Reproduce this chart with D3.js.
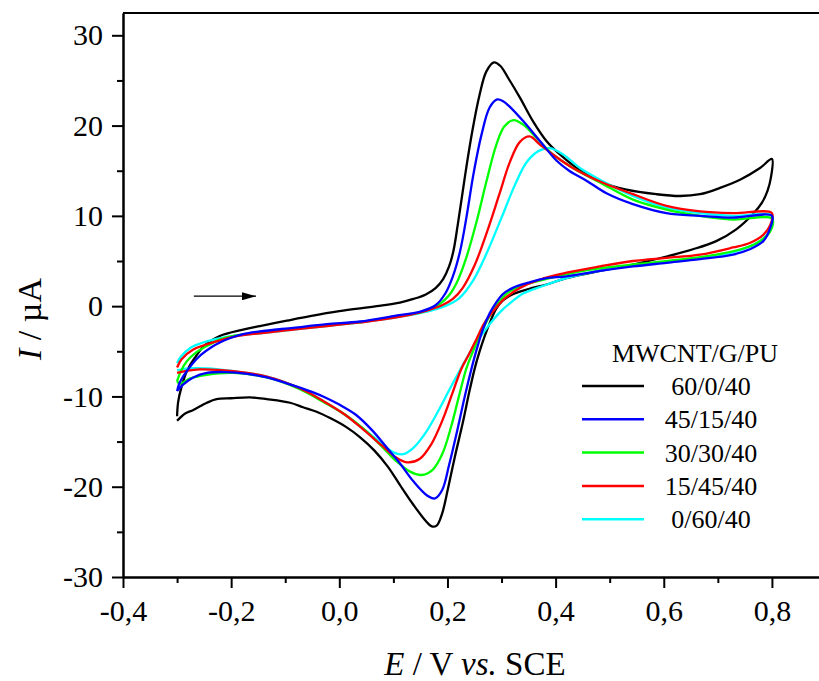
<!DOCTYPE html>
<html>
<head>
<meta charset="utf-8">
<script src="https://cdn.jsdelivr.net/npm/d3@7"></script>
<style>
  body { margin: 0; background: #fff; }
  svg { display: block; }
  .axis path, .axis line { stroke: #000; stroke-width: 2; }
</style>
</head>
<body>
<div id="chart"></div>
<script>
const serif = "'Liberation Serif', 'Times New Roman', Times, serif";

// sample labels and colours
const labels = ["60/0/40", "45/15/40", "30/30/40", "15/45/40", "0/60/40"];
const colors = ["#000000", "#0000ff", "#00ff00", "#ff0000", "#00ffff"];

// tick values
const xTicks = [-0.4, -0.2, 0.0, 0.2, 0.4, 0.6, 0.8];
const xMinor = [-0.3, -0.1, 0.1, 0.3, 0.5, 0.7];
const yTicks = [-30, -20, -10, 0, 10, 20, 30];
const yMinor = [-25, -15, -5, 5, 15, 25];

// scan direction arrow, in E / I units
const arrowFrom = [-0.269, 1.1];
const arrowTo = [-0.154, 1.1];

// voltammograms [E (V), I (uA)], forward scan then reverse scan
const cv60_0_40 = [
  [-0.300,-12.2],[-0.298,-10.6],[-0.292,-9.0],[-0.282,-7.2],[-0.268,-5.8],[-0.250,-4.4],[-0.221,-3.3],
  [-0.178,-2.6],[-0.147,-2.2],[-0.097,-1.6],[-0.054,-1.1],[0.000,-0.55],[0.069,0.0],[0.112,0.4],
  [0.137,0.8],[0.160,1.3],[0.178,2.0],[0.192,3.0],[0.203,4.4],[0.211,6.1],[0.219,9.0],[0.227,12.2],
  [0.236,15.8],[0.246,19.4],[0.259,23.3],[0.272,26.0],[0.286,27.0],[0.298,26.6],[0.312,25.3],
  [0.334,23.1],[0.358,20.5],[0.383,18.3],[0.408,16.8],[0.439,15.3],[0.482,13.8],[0.531,12.9],
  [0.586,12.4],[0.630,12.2],[0.667,12.4],[0.704,13.1],[0.741,14.0],[0.778,15.3],[0.800,16.3],
  [0.798,14.2],[0.792,12.8],[0.781,11.4],[0.765,10.2],[0.734,8.5],[0.697,7.2],[0.654,6.3],
  [0.605,5.5],[0.543,4.6],[0.482,3.9],[0.420,3.1],[0.383,2.4],[0.350,1.9],[0.320,1.3],[0.302,0.6],
  [0.290,-0.3],[0.280,-1.6],[0.269,-3.3],[0.259,-5.1],[0.250,-7.0],[0.240,-9.6],[0.228,-13.0],
  [0.214,-16.6],[0.201,-20.2],[0.190,-23.0],[0.180,-24.3],[0.171,-24.4],[0.160,-23.8],[0.137,-22.0],
  [0.112,-19.8],[0.090,-17.8],[0.065,-16.0],[0.038,-14.5],[0.013,-13.4],[-0.017,-12.4],[-0.042,-11.7],
  [-0.067,-11.2],[-0.091,-10.7],[-0.134,-10.3],[-0.165,-10.1],[-0.200,-10.2],[-0.227,-10.3],
  [-0.245,-10.7],[-0.270,-11.5],[-0.285,-11.9],[-0.300,-12.7]
];
const cv45_15_40 = [
  [-0.300,-9.4],[-0.296,-8.6],[-0.289,-7.8],[-0.272,-6.4],[-0.256,-5.4],[-0.238,-4.6],[-0.220,-4.0],
  [-0.200,-3.5],[-0.178,-3.1],[-0.147,-2.8],[-0.085,-2.4],[-0.023,-2.0],[0.038,-1.7],[0.100,-1.1],
  [0.150,-0.6],[0.178,0.1],[0.196,1.4],[0.210,3.3],[0.223,6.0],[0.235,9.8],[0.248,14.6],[0.263,19.0],
  [0.278,22.0],[0.292,22.9],[0.303,22.7],[0.315,22.1],[0.340,20.5],[0.371,18.3],[0.402,16.1],
  [0.425,15.0],[0.457,13.9],[0.494,12.5],[0.543,11.3],[0.605,10.3],[0.667,10.0],[0.728,9.8],[0.800,10.0],
  [0.797,8.7],[0.784,7.2],[0.759,6.3],[0.728,5.7],[0.667,5.2],[0.605,4.8],[0.543,4.4],[0.482,3.9],
  [0.420,3.3],[0.383,3.1],[0.350,2.6],[0.320,2.0],[0.302,1.3],[0.290,0.4],[0.278,-0.8],[0.266,-2.5],
  [0.255,-4.6],[0.245,-6.8],[0.232,-10.0],[0.218,-13.8],[0.203,-17.6],[0.190,-20.4],[0.177,-21.3],
  [0.163,-21.0],[0.137,-19.4],[0.112,-17.4],[0.087,-15.6],[0.060,-13.7],[0.030,-12.0],[0.000,-10.9],
  [-0.030,-10.0],[-0.060,-9.3],[-0.100,-8.5],[-0.134,-7.9],[-0.170,-7.5],[-0.210,-7.3],[-0.245,-7.4],
  [-0.270,-7.9],[-0.289,-8.7],[-0.300,-9.4]
];
const cv30_30_40 = [
  [-0.300,-8.3],[-0.293,-7.2],[-0.282,-6.1],[-0.264,-5.1],[-0.245,-4.4],[-0.221,-3.7],[-0.196,-3.3],
  [-0.147,-2.9],[-0.085,-2.5],[-0.023,-2.1],[0.038,-1.8],[0.100,-1.2],[0.155,-0.6],[0.185,0.2],
  [0.203,1.2],[0.218,2.7],[0.235,5.4],[0.254,9.4],[0.272,13.8],[0.290,17.8],[0.305,19.9],[0.322,20.6],
  [0.340,20.1],[0.365,18.6],[0.395,16.8],[0.432,15.3],[0.482,13.7],[0.543,11.8],[0.605,10.7],
  [0.667,10.0],[0.728,9.6],[0.800,9.7],
  [0.797,8.3],[0.778,7.2],[0.753,6.5],[0.697,5.7],[0.636,5.2],[0.574,4.8],[0.512,4.4],[0.451,3.9],
  [0.389,3.1],[0.345,2.4],[0.312,1.5],[0.292,0.2],[0.277,-1.2],[0.262,-3.0],[0.248,-4.9],[0.235,-6.9],
  [0.222,-9.8],[0.207,-13.3],[0.191,-16.3],[0.173,-18.1],[0.152,-18.7],[0.130,-18.3],[0.106,-17.2],
  [0.078,-15.5],[0.045,-13.6],[0.010,-12.0],[-0.030,-10.6],[-0.073,-9.2],[-0.134,-7.9],[-0.196,-7.4],
  [-0.245,-7.6],[-0.276,-8.0],[-0.295,-8.6],[-0.300,-8.3]
];
const cv15_45_40 = [
  [-0.300,-6.8],[-0.292,-5.9],[-0.270,-4.8],[-0.227,-3.9],[-0.196,-3.4],[-0.147,-3.0],[-0.085,-2.6],
  [-0.023,-2.2],[0.038,-1.8],[0.100,-1.3],[0.155,-0.6],[0.190,0.1],[0.210,0.8],[0.228,2.0],[0.250,4.5],
  [0.273,8.2],[0.296,12.4],[0.315,15.9],[0.334,18.2],[0.352,18.8],[0.371,17.9],[0.395,16.8],
  [0.432,15.3],[0.482,13.8],[0.543,12.4],[0.605,11.1],[0.667,10.5],[0.728,10.3],[0.800,10.3],
  [0.797,9.0],[0.784,7.9],[0.759,7.0],[0.728,6.5],[0.667,5.7],[0.605,5.35],[0.543,5.0],[0.482,4.4],
  [0.420,3.7],[0.371,2.95],[0.334,2.0],[0.305,0.8],[0.284,-0.6],[0.268,-1.9],[0.254,-3.6],[0.240,-5.3],
  [0.226,-6.9],[0.210,-9.5],[0.191,-12.6],[0.170,-15.3],[0.149,-16.9],[0.126,-17.3],[0.106,-16.8],
  [0.078,-15.4],[0.045,-13.7],[0.010,-12.0],[-0.030,-10.5],[-0.073,-9.1],[-0.134,-7.8],[-0.196,-7.2],
  [-0.258,-7.0],[-0.285,-7.2],[-0.300,-7.4]
];
const cv0_60_40 = [
  [-0.300,-6.3],[-0.293,-5.6],[-0.275,-4.6],[-0.245,-3.9],[-0.208,-3.4],[-0.147,-3.0],[-0.085,-2.6],
  [-0.023,-2.2],[0.038,-1.8],[0.100,-1.3],[0.155,-0.7],[0.195,0.0],[0.222,0.9],[0.247,2.8],[0.272,5.8],
  [0.300,9.8],[0.326,13.6],[0.347,16.0],[0.369,17.2],[0.389,17.5],[0.414,16.8],[0.445,15.3],
  [0.482,14.0],[0.543,12.2],[0.605,10.9],[0.667,10.3],[0.728,10.0],[0.800,10.0],
  [0.797,8.5],[0.780,7.3],[0.750,6.4],[0.700,5.6],[0.640,5.1],[0.580,4.7],[0.520,4.3],[0.470,3.8],
  [0.420,3.1],[0.375,2.2],[0.340,1.4],[0.317,0.4],[0.300,-0.5],[0.282,-1.7],[0.262,-3.3],[0.243,-5.0],
  [0.224,-7.0],[0.204,-9.2],[0.184,-11.5],[0.161,-13.9],[0.137,-15.7],[0.118,-16.4],[0.100,-16.2],
  [0.078,-15.2],[0.045,-13.6],[0.010,-12.0],[-0.030,-10.5],[-0.073,-9.1],[-0.134,-7.8],[-0.196,-7.2],
  [-0.245,-6.9],[-0.280,-6.9],[-0.300,-7.1]
];
const curves = [cv60_0_40, cv45_15_40, cv30_30_40, cv15_45_40, cv0_60_40];

const margin = { top: 13, left: 123 },
      width = 703,
      height = 564;

const svg = d3.select("#chart")
  .append("svg")
  .attr("width", 819)
  .attr("height", 681)
  .attr("font-family", serif);

const g = svg.append("g")
  .attr("transform", `translate(${margin.left},${margin.top})`);

const x = d3.scaleLinear().domain([-0.4, 0.9]).range([0, width]);
const y = d3.scaleLinear().domain([-30, 32.47]).range([height, 0]);

const fmtX = d => d.toFixed(1).replace(".", ",");

function styleTicks(sel) {
  sel.attr("font-family", serif).attr("font-size", 30);
  sel.selectAll("text").attr("fill", "#000");
}

// minor ticks first, then major ticks with labels
g.append("g").attr("class", "axis")
  .attr("transform", `translate(0,${height})`)
  .call(d3.axisBottom(x).tickValues(xMinor).tickSize(6).tickSizeOuter(0).tickFormat(""));
g.append("g").attr("class", "axis")
  .attr("transform", `translate(0,${height})`)
  .call(d3.axisBottom(x).tickValues(xTicks).tickSize(11).tickSizeOuter(0).tickPadding(12).tickFormat(fmtX))
  .call(styleTicks);

g.append("g").attr("class", "axis")
  .call(d3.axisLeft(y).tickValues(yMinor).tickSize(6).tickSizeOuter(0).tickFormat(""));
g.append("g").attr("class", "axis")
  .call(d3.axisLeft(y).tickValues(yTicks).tickSize(11).tickSizeOuter(0).tickPadding(9).tickFormat(d => String(d)))
  .call(styleTicks);

// frame top and right
g.append("path")
  .attr("d", `M0,0H${width}V${height}`)
  .attr("fill", "none")
  .attr("stroke", "#000")
  .attr("stroke-width", 2);

// curves
const line = d3.line()
  .x(d => x(d[0]))
  .y(d => y(d[1]))
  .curve(d3.curveCatmullRom.alpha(0.5));

const drawOrder = [0, 4, 2, 3, 1];
g.selectAll(".cv")
  .data(drawOrder)
  .enter().append("path")
  .attr("class", "cv")
  .attr("d", i => line(curves[i]))
  .attr("fill", "none")
  .attr("stroke", i => colors[i])
  .attr("stroke-width", 2.3)
  .attr("stroke-linejoin", "round");

// arrow
svg.append("defs").append("marker")
  .attr("id", "head")
  .attr("viewBox", "0 0 14 8")
  .attr("refX", 14).attr("refY", 4)
  .attr("markerWidth", 14).attr("markerHeight", 8)
  .attr("markerUnits", "userSpaceOnUse")
  .attr("orient", "auto")
  .append("path").attr("d", "M0,0L14,4L0,8Z").attr("fill", "#000");

g.append("line")
  .attr("x1", x(arrowFrom[0])).attr("y1", y(arrowFrom[1]))
  .attr("x2", x(arrowTo[0])).attr("y2", y(arrowTo[1]))
  .attr("stroke", "#000").attr("stroke-width", 1.2)
  .attr("marker-end", "url(#head)");

// legend
const legend = svg.append("g")
  .attr("transform", "translate(582,386)")
  .attr("font-family", serif)
  .attr("font-size", 26);
legend.append("text")
  .attr("x", 113).attr("y", -24)
  .attr("text-anchor", "middle")
  .text("MWCNT/G/PU");

const item = legend.selectAll(".item")
  .data(labels)
  .enter().append("g")
  .attr("transform", (d, i) => `translate(0,${i * 33.3})`);
item.append("line")
  .attr("x1", 0).attr("x2", 62)
  .attr("stroke", (d, i) => colors[i])
  .attr("stroke-width", 2.5);
item.append("text")
  .attr("x", 129).attr("y", 9)
  .attr("text-anchor", "middle")
  .text(d => d);

// axis titles
const xt = svg.append("text")
  .attr("x", 475).attr("y", 675)
  .attr("text-anchor", "middle")
  .attr("font-family", serif)
  .attr("font-size", 33);
xt.append("tspan").attr("font-style", "italic").text("E");
xt.append("tspan").text(" / V ");
xt.append("tspan").attr("font-style", "italic").text("vs.");
xt.append("tspan").text(" SCE");

const yt = svg.append("text")
  .attr("transform", "translate(41,319) rotate(-90)")
  .attr("text-anchor", "middle")
  .attr("font-family", serif)
  .attr("font-size", 34);
yt.append("tspan").attr("font-style", "italic").text("I");
yt.append("tspan").text(" / µA");
</script>
</body>
</html>
